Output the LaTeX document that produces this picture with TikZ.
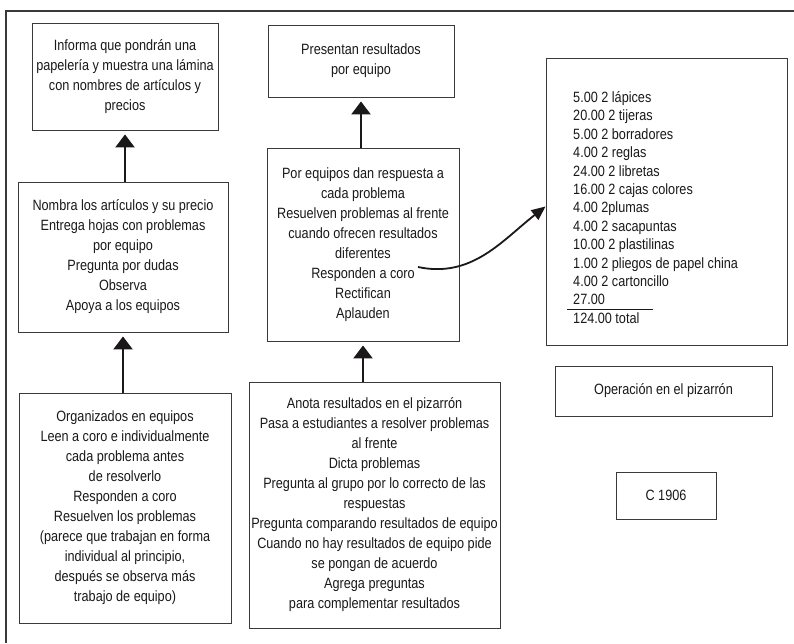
\documentclass[tikz,border=0pt]{standalone}
\usepackage{fontspec}
\setmainfont{Liberation Sans}[FakeStretch=0.85]
\usepackage{xcolor}
\usetikzlibrary{arrows.meta, positioning, calc}
\definecolor{inkgray}{HTML}{1A1818}
\definecolor{linegray}{HTML}{3A3A3A}
\tikzset{
  box/.style={
    rectangle, draw=linegray, line width=0.9pt, text=inkgray,
    align=center, inner sep=2pt,
    font=\fontsize{14.9}{20}\selectfont
  },
  listtext/.style={
    inner sep=6pt, align=left, text=inkgray,
    font=\fontsize{14.9}{18.4}\selectfont
  },
  arrow/.style={-{Triangle[width=19pt,length=13pt]}, line width=2.4pt, inkgray, shorten >=4pt},
  curvearrow/.style={-{Triangle[width=12pt,length=14pt]}, line width=1.8pt, inkgray},
  frame/.style={draw=linegray, line width=1.1pt}
}

\begin{document}
\begin{tikzpicture}[x=1pt, y=-1pt]
  \useasboundingbox (0,0) rectangle (794,643);

  % cropped outer frame
  \draw[frame] (5,11) -- (794,11);
  \draw[frame] (6,11) -- (6,643);

  % left column
  \node[box, minimum width=186pt, minimum height=107pt] (A) at (125,76.5)
    {Informa que pondrán una\\papelería y muestra una lámina\\con nombres de artículos y\\precios};
  \node[box, minimum width=210pt, minimum height=150pt] (D) at (123,257)
    {Nombra los artículos y su precio\\Entrega hojas con problemas\\por equipo\\Pregunta por dudas\\Observa\\Apoya a los equipos};
  \node[box, minimum width=212pt, minimum height=230pt] (E) at (125,508)
    {Organizados en equipos\\Leen a coro e individualmente\\cada problema antes\\de resolverlo\\Responden a coro\\Resuelven los problemas\\(parece que trabajan en forma\\individual al principio,\\después se observa más\\trabajo de equipo)};

  % middle column
  \node[box, minimum width=186pt, minimum height=72pt] (B) at (361,61)
    {Presentan resultados\\por equipo};
  \node[box, minimum width=192pt, minimum height=193pt] (F) at (363,244.5)
    {Por equipos dan respuesta a\\cada problema\\Resuelven problemas al frente\\cuando ofrecen resultados\\diferentes\\Responden a coro\\Rectifican\\Aplauden};
  \node[box, minimum width=251pt, minimum height=246pt] (G) at (374.5,505)
    {Anota resultados en el pizarrón\\Pasa a estudiantes a resolver problemas\\al frente\\Dicta problemas\\Pregunta al grupo por lo correcto de las\\respuestas\\Pregunta comparando resultados de equipo\\Cuando no hay resultados de equipo pide\\se pongan de acuerdo\\Agrega preguntas\\para complementar resultados};

  % right column
  \node[box, minimum width=241pt, minimum height=287pt] (C) at (666.5,201.5) {};
  \node[listtext, anchor=west] (Clist) at (567,207.5)
    {5.00 2 lápices\\20.00 2 tijeras\\5.00 2 borradores\\4.00 2 reglas\\24.00 2 libretas\\16.00 2 cajas colores\\4.00 2plumas\\4.00 2 sacapuntas\\10.00 2 plastilinas\\1.00 2 pliegos de papel china\\4.00 2 cartoncillo\\\rlap{\hspace*{-6pt}\rule[-4.5pt]{86pt}{0.8pt}}27.00\\124.00 total};
  \node[box, minimum width=217pt, minimum height=50pt] (H) at (663.5,391)
    {Operación en el pizarrón};
  \node[box, minimum width=100pt, minimum height=47pt] (I) at (666,495.5)
    {C 1906};

  \foreach \from/\to in {D/A,E/D,F/B,G/F}
    \draw[arrow] (\to.south |- \from.north) -- (\to.south);

  \coordinate (cstart) at (418,267);
  \draw[curvearrow] (cstart) to[out=-12, in=218] ([yshift=-5pt]C.west);
\end{tikzpicture}
\end{document}
